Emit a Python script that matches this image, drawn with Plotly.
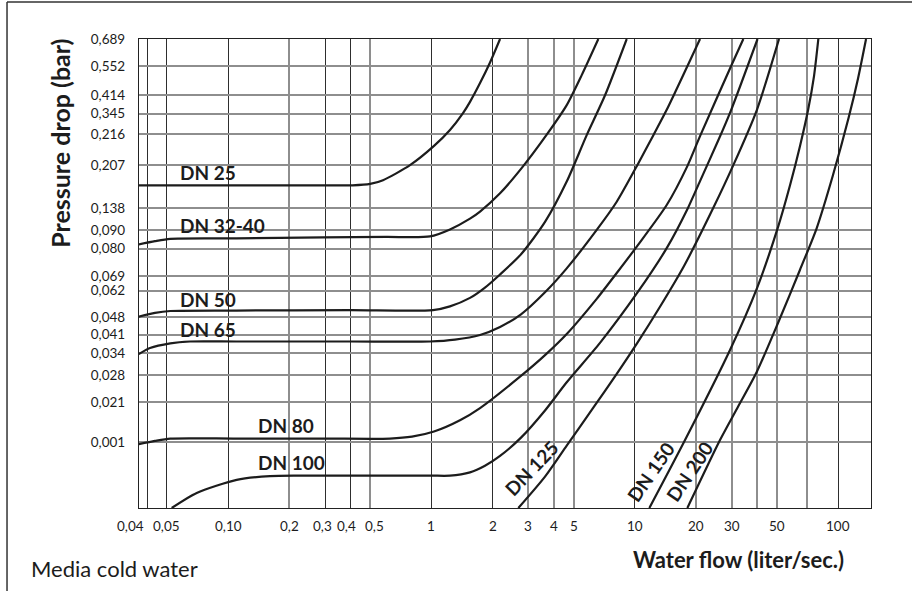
import numpy as np
import plotly.graph_objects as go

# ---------------- axes ----------------
x_tick_values = [0.04, 0.05, 0.1, 0.2, 0.3, 0.4, 0.5, 1, 2, 3, 4, 5, 10, 20, 30, 50, 100]
x_tick_labels = ["0,04", "0,05", "0,10", "0,2", "0,3", "0,4", "0,5", "1", "2", "3", "4", "5",
                 "10", "20", "30", "50", "100"]
x_grid_dark = [0.04, 0.05, 0.1, 0.3, 0.4, 1, 2, 10, 100]
x_grid_light = [0.2, 0.5, 3, 4, 5, 20, 30, 40, 50, 70]
x_min, x_max = 0.0365, 145

# the printed pressure scale is not uniform: labels sit on a 0-100 chart scale
y_tick_labels = ["0,689", "0,552", "0,414", "0,345", "0,216", "0,207", "0,138", "0,090", "0,080",
                 "0,069", "0,062", "0,048", "0,041", "0,034", "0,028", "0,021", "0,001"]
y_tick_scale = [100.0, 94.25, 88.07, 84.11, 79.64, 73.04, 64.01, 59.26, 55.28,
                49.47, 46.34, 40.63, 36.97, 33.07, 28.28, 22.53, 14.12]
y_grid_dark = ["0,216", "0,207", "0,090", "0,028", "0,021"]

# ---------------- curves: flow (l/s) vs pressure-drop chart scale ----------------
series_names = ["DN 25", "DN 32-40", "DN 50", "DN 65", "DN 80", "DN 100", "DN 125", "DN 150", "DN 200"]

dn25_flow = [0.0364, 0.1098, 0.2931, 0.4100, 0.5000, 0.5781, 0.7848, 1.030, 1.234, 1.430, 1.548, 1.734,
             1.942, 2.175]
dn25_dp = [68.8, 68.8, 68.8, 68.8, 69.1, 69.9, 73.1, 77.2, 80.6, 84.2, 86.6, 90.6, 95.0, 100.0]

dn32_flow = [0.0364, 0.04375, 0.05201, 0.1098, 0.2931, 0.6000, 0.9842, 1.234, 1.548, 1.734, 2.175, 2.758,
             3.689, 4.627, 5.483, 6.617]
dn32_dp = [56.2, 56.9, 57.4, 57.5, 57.7, 57.8, 57.9, 59.4, 61.7, 63.2, 67.1, 72.3, 79.6, 85.9, 92.3, 100.0]

dn50_flow = [0.0364, 0.04375, 0.05201, 0.1098, 0.4000, 1.018, 1.234, 1.548, 1.834, 2.175, 2.758, 3.619,
             4.627, 5.802, 7.139, 9.126]
dn50_dp = [40.8, 41.6, 42.0, 42.1, 42.2, 42.2, 43.0, 44.8, 47.0, 49.8, 54.1, 61.0, 69.6, 79.5, 88.0, 100.0]

dn65_flow = [0.0364, 0.04134, 0.05201, 0.06501, 0.1098, 0.4000, 0.9842, 1.306, 1.734, 2.175, 2.758, 3.619,
             4.627, 6.498, 8.150, 10.29, 12.34, 14.35, 18.13, 20.93]
dn65_dp = [32.8, 34.1, 35.1, 35.5, 35.5, 35.5, 35.5, 35.9, 36.9, 38.6, 41.3, 46.0, 51.1, 59.3, 65.3,
           73.1, 79.5, 84.9, 94.2, 100.0]

dn80_flow = [0.0364, 0.04375, 0.05201, 0.1098, 0.3000, 0.6257, 0.8027, 1.030, 1.382, 1.734, 2.727, 3.619,
             4.627, 6.498, 8.150, 10.29, 14.35, 18.13, 20.93, 29.72, 34.17]
dn80_dp = [13.6, 14.3, 14.8, 14.8, 14.8, 14.8, 15.2, 16.3, 18.7, 21.3, 28.0, 32.6, 37.1, 44.6, 50.1,
           55.9, 64.6, 72.9, 79.3, 94.2, 100.0]

dn100_flow = [0.05284, 0.07015, 0.1103, 0.1609, 0.2259, 0.5000, 1.000, 1.234, 1.548, 1.834, 2.175, 2.758,
              3.619, 4.627, 6.745, 10.29, 14.35, 18.13, 20.93, 25.74, 29.72, 40.13]
dn100_dp = [0.0, 3.2, 6.0, 6.8, 6.9, 6.9, 6.9, 6.9, 7.6, 9.0, 11.1, 15.0, 20.8, 26.8, 35.2, 45.9, 55.4,
            63.7, 69.7, 78.4, 84.8, 100.0]

dn125_flow = [2.675, 3.619, 4.627, 6.252, 8.150, 10.29, 13.30, 17.46, 24.33, 30.51, 39.77, 51.18]
dn125_dp = [0.0, 6.7, 13.3, 21.4, 28.6, 35.2, 42.9, 51.6, 64.0, 73.1, 84.8, 100.0]

dn150_flow = [11.79, 17.66, 29.39, 39.90, 50.78, 57.97, 64.92, 71.07, 76.07, 79.88]
dn150_dp = [0.0, 14.5, 33.7, 46.9, 60.1, 68.8, 77.2, 84.8, 92.1, 100.0]

dn200_flow = [18.13, 26.24, 32.18, 39.77, 50.78, 64.92, 78.44, 94.32, 112.7, 125.2, 137.1]
dn200_dp = [0.0, 14.5, 21.6, 29.0, 39.6, 50.8, 59.7, 71.0, 83.3, 91.6, 100.0]

curve_flows = [dn25_flow, dn32_flow, dn50_flow, dn65_flow, dn80_flow, dn100_flow, dn125_flow, dn150_flow, dn200_flow]
curve_dps = [dn25_dp, dn32_dp, dn50_dp, dn65_dp, dn80_dp, dn100_dp, dn125_dp, dn150_dp, dn200_dp]

# label anchor (flow, chart scale, angle) for each series name
label_flow = [0.0568, 0.0568, 0.0568, 0.0568, 0.1368, 0.1368, 3.12, 11.99, 18.52]
label_dp = [71.5, 60.3, 44.5, 38.0, 17.5, 9.6, 8.6, 7.8, 7.8]
label_angle = [0, 0, 0, 0, 0, 0, -46, -55, -56]

# small horizontal nudges for crowded x tick labels (pixels)
x_label_nudge = {"0,04": -1, "0,3": -3, "0,4": -4, "0,5": 4}

# ---------------- figure ----------------
FONT = "Lato, 'Open Sans', sans-serif"
INK = "#1c1c1c"
DARK_GRID = "#2e2e2e"
LIGHT_GRID = "#8e8e8e"

fig = go.Figure()
for name, xs, ys in zip(series_names, curve_flows, curve_dps):
    fig.add_trace(go.Scatter(x=xs, y=ys, mode="lines", name=name,
                             line=dict(color=INK, width=2.2, shape="spline", smoothing=0.7),
                             hoverinfo="name+x", showlegend=False))

annotations = []
for name, fx, fy, ang in zip(series_names, label_flow, label_dp, label_angle):
    annotations.append(dict(
        x=np.log10(fx), y=fy, xref="x", yref="y", text="<b>%s</b>" % name, showarrow=False,
        textangle=ang, xanchor="left" if ang == 0 else "center", yanchor="middle",
        font=dict(family=FONT, size=19, color=INK)))

for v, t in zip(x_tick_values, x_tick_labels):
    annotations.append(dict(
        x=np.log10(v), y=0, xref="x", yref="paper", text=t, showarrow=False,
        xanchor="right" if t == "0,04" else "center", yanchor="top",
        xshift=x_label_nudge.get(t, 0), yshift=-8,
        font=dict(family=FONT, size=13.5, color=INK)))

annotations += [
    dict(x=-0.109, y=0.777, xref="paper", yref="paper", text="<b>Pressure drop (bar)</b>",
         textangle=-90, showarrow=False, xanchor="center", yanchor="middle",
         font=dict(family=FONT, size=25, color=INK)),
    dict(x=0.819, y=-0.109, xref="paper", yref="paper", text="<b>Water flow (liter/sec.)</b>",
         showarrow=False, xanchor="center", yanchor="middle",
         font=dict(family=FONT, size=22, color=INK)),
    dict(x=-0.150, y=-0.129, xref="paper", yref="paper", text="Media cold water",
         showarrow=False, xanchor="left", yanchor="middle",
         font=dict(family=FONT, size=22, color=INK)),
]

shapes = []
for lab, pos in zip(y_tick_labels, y_tick_scale):
    if lab in y_grid_dark:
        shapes.append(dict(type="line", xref="paper", yref="y", x0=0, x1=1, y0=pos, y1=pos,
                           line=dict(color=DARK_GRID, width=1.2), layer="between"))
# outer frame of the figure (top and left edges)
shapes.append(dict(type="line", xref="paper", yref="paper", x0=-0.1803, x1=1.06, y0=1.0789, y1=1.0789,
                   line=dict(color="#333333", width=1.5)))
shapes.append(dict(type="line", xref="paper", yref="paper", x0=-0.1803, x1=-0.1803, y0=1.0789, y1=-0.2,
                   line=dict(color="#333333", width=1.5)))

fig.update_layout(
    width=912, height=591, autosize=False,
    margin=dict(l=139, r=41, t=39, b=83),
    paper_bgcolor="white", plot_bgcolor="white",
    font=dict(family=FONT, color=INK),
    annotations=annotations, shapes=shapes,
    xaxis=dict(type="log", range=[np.log10(x_min), np.log10(x_max)],
               tickmode="array", tickvals=x_grid_dark, showticklabels=False, ticks="",
               showgrid=True, gridcolor=DARK_GRID, gridwidth=1.2,
               minor=dict(tickmode="array", tickvals=x_grid_light, showgrid=True,
                          gridcolor=LIGHT_GRID, gridwidth=1.5, ticks=""),
               showline=True, mirror=True, linecolor="#222222", linewidth=1.3, zeroline=False),
    yaxis=dict(range=[0, 100], tickmode="array", tickvals=y_tick_scale, ticktext=y_tick_labels,
               ticks="", ticklabelstandoff=10, tickfont=dict(family=FONT, size=13.5, color=INK),
               showgrid=True, gridcolor=LIGHT_GRID, gridwidth=1.5,
               showline=True, mirror=True, linecolor="#222222", linewidth=1.3, zeroline=False),
)

fig.write_html("out.html", config={"displayModeBar": False},
               post_script="document.body.style.margin='0';document.body.style.overflow='hidden';")
